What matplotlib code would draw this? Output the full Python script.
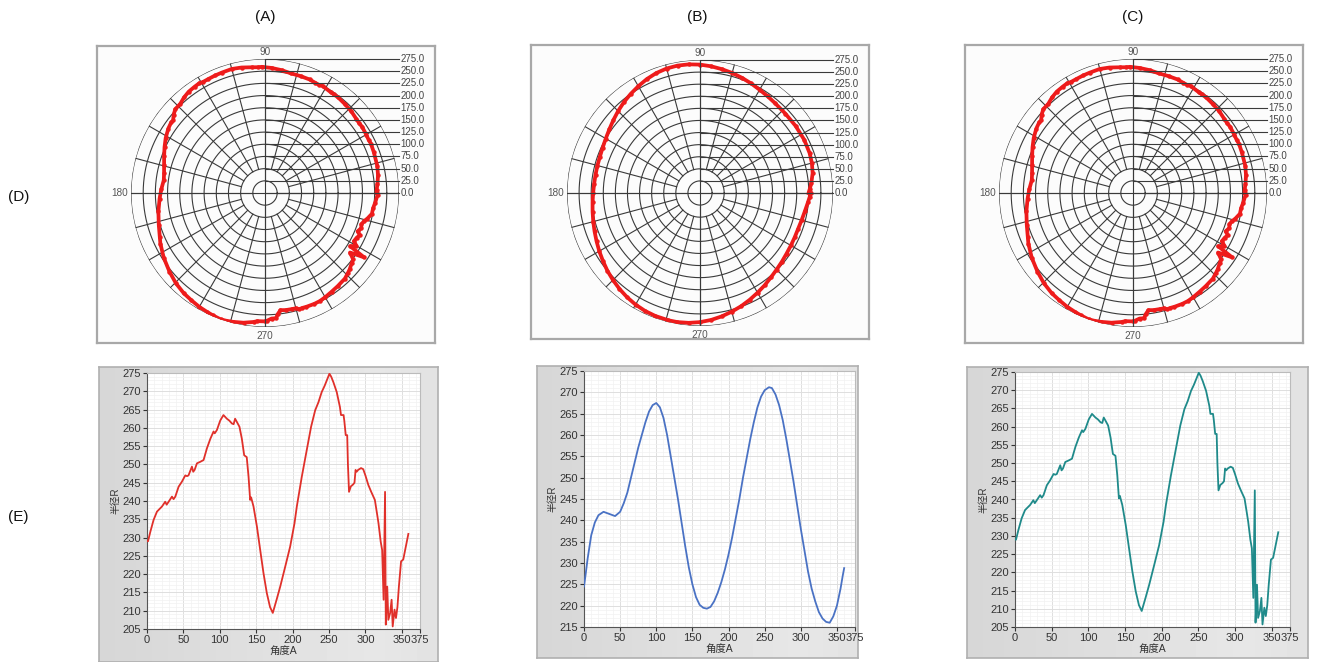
import numpy as np
import matplotlib
matplotlib.use("Agg")
import matplotlib.pyplot as plt
from matplotlib.ticker import MultipleLocator

plt.rcParams['font.family'] = ['Liberation Sans', 'Noto Sans CJK SC', 'DejaVu Sans']

# ---------------- data ----------------
angle_a = [0, 1.4, 4.6, 9, 13.7, 20.6, 25, 27, 29.7, 34.3, 36.5, 38.9, 43.4, 48, 52.6, 55,
           57, 61.7, 63.5, 65.4, 68.6, 73, 77.7, 82.3, 87, 91.4, 93, 96, 100.6, 105, 109.7,
           113, 116.6, 119, 121, 123.5, 127, 130.3, 133.5, 137, 139.5, 141.7, 143, 146.3,
           151, 155.5, 160, 164.6, 169, 172.8, 178, 183, 189.8, 196.6, 202.6, 205.8, 212.6,
           219.5, 225.4, 231, 235.5, 240, 244, 247, 250.6, 253, 256, 260.6, 265, 266.5, 270,
           271, 273, 275, 276, 277.5, 280, 283, 285, 286.5, 288, 290, 294, 297, 300, 304,
           308, 313, 316, 318, 321, 323, 325, 327, 328, 330, 331.5, 334, 336, 337.5, 340,
           342, 344, 346, 349, 352, 355, 359]
radius_a = [229, 229, 231.6, 234.8, 237.1, 238.5, 239.8, 239, 239.8, 241.2, 240.5, 241.2, 243.9,
            245.3, 247, 246.8, 247, 249.4, 248, 248.5, 250.3, 250.7, 251.2, 254.4, 257, 259,
            258.5, 259.4, 262, 263.5, 262.5, 262, 261.2, 261, 262.5, 261.6, 260.3, 257, 252.5,
            252, 246.6, 240.3, 241, 238.5, 233, 226.6, 220.3, 214.8, 211, 209.4, 213, 216.6,
            222, 227.5, 233.9, 238.5, 246.6, 254, 260.3, 264.8, 267, 269.8, 271.5, 273, 274.8,
            274, 272.5, 269.8, 265.7, 263.5, 263.5, 262, 258, 258, 250, 242.5, 244, 244.5, 245,
            248.5, 248, 248.5, 249, 248.7, 247, 244.4, 242.5, 240.3, 236.5, 233.9, 228.9,
            226.6, 213, 242.5, 206.2, 216.6, 207.5, 209.4, 213, 205.7, 210.3, 208, 211, 216.6,
            223.5, 224, 227, 231]

angle_b = [0, 2, 5, 10, 15, 20, 27, 35, 43, 50, 55, 60, 65, 70, 75, 80, 85, 90, 95, 100, 105,
           110, 115, 120, 125, 130, 135, 140, 145, 150, 155, 160, 165, 170, 175, 180, 185, 190,
           195, 200, 205, 210, 215, 220, 225, 230, 235, 240, 245, 250, 256, 260, 265, 270, 275,
           280, 285, 290, 295, 300, 305, 310, 315, 320, 325, 330, 335, 340, 345, 350, 355, 358,
           360]
radius_b = [224.5, 227, 231, 236.5, 239.5, 241.2, 242, 241.5, 241, 242, 244, 246.5, 250, 253.5,
            257, 260, 263, 265.5, 267, 267.5, 266.5, 264, 260, 255, 250, 245, 239.5, 234, 229,
            225, 222, 220.2, 219.5, 219.3, 219.7, 221, 223, 225.5, 228.5, 232, 236, 240.5, 245,
            250, 254.5, 259, 263, 266.5, 269, 270.5, 271.2, 271, 269.5, 267, 263.5, 259, 254,
            249, 243.5, 238, 233, 228, 224, 221, 218.5, 217, 216.2, 216, 217.5, 220, 224, 227,
            228.8]

col_labels = ['(A)', '(B)', '(C)']
row_labels = ['(D)', '(E)']
ring_ticks = [0, 25, 50, 75, 100, 125, 150, 175, 200, 225, 250, 275]
angle_labels = ['90', '180', '270']
x_ticks = [0, 50, 100, 150, 200, 250, 300, 350, 375]
y_ticks_ac = list(range(205, 276, 5))
y_ticks_b = list(range(215, 276, 5))
x_label = '角度A'
y_label = '半径R'

# ---------------- layout helpers ----------------
W, H = 1318, 662
fig = plt.figure(figsize=(W / 100, H / 100), dpi=100)
fig.patch.set_facecolor('white')


def box(l, t, r, b):
    return [l / W, 1 - b / H, (r - l) / W, (b - t) / H]


GRID = '#3a3a3a'


def polar_panel(frame, center, R, theta_deg, r, color):
    fr = fig.add_axes(box(*frame))
    fr.set_xticks([]); fr.set_yticks([])
    fr.set_facecolor('#fcfcfc')
    for s in fr.spines.values():
        s.set_color('#a8a8a8'); s.set_linewidth(1.6)
    cx, cy = center
    ax = fig.add_axes(box(cx - R, cy - R, cx + R, cy + R), projection='polar')
    ax.set_ylim(0, ring_ticks[-1])
    ax.grid(False)
    ax.set_xticks([]); ax.set_yticks([])
    ax.spines['polar'].set_visible(False)
    ax.patch.set_alpha(0)
    th = np.linspace(0, 2 * np.pi, 721)
    for rr in ring_ticks[1:]:
        ax.plot(th, np.full_like(th, rr), color=GRID, lw=0.8, zorder=1)
    for a in range(0, 360, 15):
        r0 = ring_ticks[1] if a % 90 == 0 else ring_ticks[2]
        ax.plot([np.deg2rad(a)] * 2, [r0, ring_ticks[-1]], color=GRID, lw=0.8, zorder=1)
    ax.plot(np.deg2rad(theta_deg), r, color=color, lw=2.7, zorder=3,
            marker='o', ms=2.2, mec=color, mfc=color)
    # overlay cartesian for labels
    ov = fig.add_axes(box(cx - R, cy - R, cx + R, cy + R))
    ov.set_xlim(-ring_ticks[-1], ring_ticks[-1]); ov.set_ylim(-ring_ticks[-1], ring_ticks[-1])
    ov.axis('off')
    ov.patch.set_alpha(0)
    for rr in ring_ticks:
        ov.plot([0, ring_ticks[-1]], [rr, rr], color=GRID, lw=0.8, clip_on=False)
        ov.text(ring_ticks[-1] + 3, rr, f'{rr:.1f}', ha='left', va='center',
                fontsize=7, color='#444444', clip_on=False)
    ov.plot([-ring_ticks[-1], ring_ticks[-1]], [0, 0], color=GRID, lw=0.8)
    ov.plot([0, 0], [-ring_ticks[-1], ring_ticks[-1]], color=GRID, lw=0.8)
    ov.text(0, ring_ticks[-1] + 4, angle_labels[0], ha='center', va='bottom',
            fontsize=7.2, color='#555555')
    ov.text(-ring_ticks[-1] - 6, 0, angle_labels[1], ha='right', va='center',
            fontsize=7.2, color='#555555')
    ov.text(0, -ring_ticks[-1] - 8, angle_labels[2], ha='center', va='top',
            fontsize=7.2, color='#555555')


def line_panel(panel, plot, x, y, color, yticks):
    bg = fig.add_axes(box(*panel))
    bg.set_xticks([]); bg.set_yticks([])
    grad = np.linspace(0.84, 0.92, 64)[None, :]
    grad = np.minimum(grad, grad[:, ::-1] + 0.05)
    bg.imshow(grad, cmap='gray', vmin=0, vmax=1, aspect='auto', extent=[0, 1, 0, 1])
    bg.set_xlim(0, 1); bg.set_ylim(0, 1)
    for s in bg.spines.values():
        s.set_color('#b0b0b0'); s.set_linewidth(1.2)
    ax = fig.add_axes(box(*plot))
    ax.set_facecolor('white')
    ax.plot(x, y, color=color, lw=1.3, zorder=3)
    ax.set_xlim(x_ticks[0], x_ticks[-1])
    ax.set_ylim(yticks[0], yticks[-1])
    ax.set_xticks(x_ticks); ax.set_yticks(yticks)
    ax.xaxis.set_minor_locator(MultipleLocator(10))
    ax.yaxis.set_minor_locator(MultipleLocator(1))
    ax.grid(which='major', color='#dedede', lw=0.7)
    ax.grid(which='minor', color='#f1f1f1', lw=0.5)
    ax.set_axisbelow(True)
    ax.tick_params(which='minor', length=0)
    ax.tick_params(which='major', labelsize=8, colors='#333333', length=3, width=0.8, pad=1.5)
    for s in ['left', 'bottom']:
        ax.spines[s].set_color('#555555'); ax.spines[s].set_linewidth(0.8)
    for s in ['top', 'right']:
        ax.spines[s].set_color('#bbbbbb'); ax.spines[s].set_linewidth(0.8)
    ax.set_xlabel(x_label, fontsize=7.5, color='#333333', labelpad=1)
    ax.set_ylabel(y_label, fontsize=7, color='#333333', labelpad=1)


RED_P = '#ee1b1b'
polar_panel((97, 46, 435, 343), (265, 193), 134, angle_a, radius_a, RED_P)
polar_panel((531, 45, 869, 339), (700, 193), 133, angle_b, radius_b, RED_P)
polar_panel((965, 45, 1303, 343), (1133, 193), 134, angle_a, radius_a, RED_P)

line_panel((99, 367, 438, 662), (147, 373, 420, 629), angle_a, radius_a, '#e0302a', y_ticks_ac)
line_panel((537, 366, 858, 658), (584, 371, 855, 627), angle_b, radius_b, '#4a72c4', y_ticks_b)
line_panel((967, 367, 1308, 658), (1015, 372, 1290, 627), angle_a, radius_a, '#1f8a8a', y_ticks_ac)

for lab, xc in zip(col_labels, [265, 697, 1133]):
    fig.text(xc / W, 1 - 17 / H, lab, ha='center', va='center', fontsize=11, color='#111111')
for lab, yc in zip(row_labels, [197, 517]):
    fig.text(8 / W, 1 - yc / H, lab, ha='left', va='center', fontsize=11, color='#111111')

fig.savefig('out.png', dpi=100)
